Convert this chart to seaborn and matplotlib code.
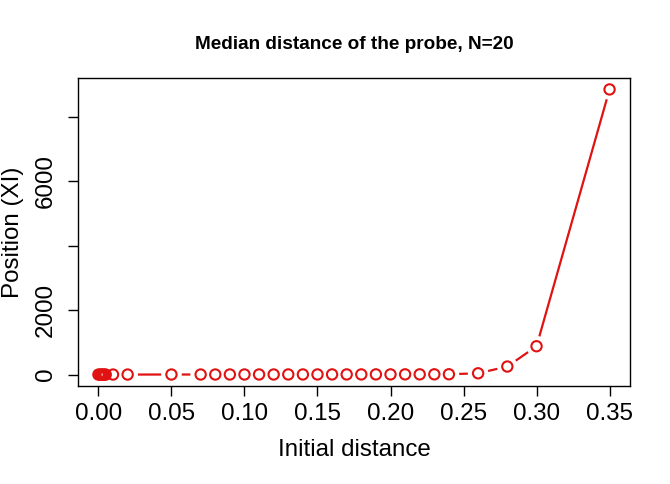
import numpy as np
import pandas as pd
import matplotlib
matplotlib.use("Agg")
import matplotlib.pyplot as plt
import seaborn as sns

# Data
initial_distance = [0.0, 0.001, 0.002, 0.003, 0.004, 0.005, 0.01, 0.02, 0.05,
                    0.07, 0.08, 0.09, 0.10, 0.11, 0.12, 0.13, 0.14, 0.15, 0.16,
                    0.17, 0.18, 0.19, 0.20, 0.21, 0.22, 0.23, 0.24,
                    0.26, 0.28, 0.30, 0.35]
position = [0, 0, 0, 0, 0, 0, 1, 1, 2,
            2, 2, 3, 3, 3, 3, 4, 4, 4, 5,
            5, 5, 6, 6, 7, 7, 8, 10,
            40, 250, 880, 8850]

y_ticks = [0, 2000, 4000, 6000, 8000]
y_tick_labels = ["0", "2000", "", "6000", ""]
x_ticks = [0.00, 0.05, 0.10, 0.15, 0.20, 0.25, 0.30, 0.35]

df = pd.DataFrame({"dist": initial_distance, "pos": position})

sns.set_theme(style="ticks")
plt.rcParams["font.family"] = ["Liberation Sans", "DejaVu Sans"]

red = "#E01212"

fig = plt.figure(figsize=(6.7, 4.84), dpi=100)
ax = fig.add_axes([0.1164, 0.2025, 0.8239, 0.6363])

# line, then white halos to break it near points (like R type="b"), then hollow circles
sns.lineplot(data=df, x="dist", y="pos", color=red, linewidth=1.6, ax=ax, zorder=1)
sns.scatterplot(data=df, x="dist", y="pos", s=220, color="white", edgecolor="none",
                linewidth=0, ax=ax, zorder=2)
sns.scatterplot(data=df, x="dist", y="pos", s=55, marker="o", facecolor="none",
                edgecolor=red, linewidth=1.5, ax=ax, zorder=3)

# R default 4% padding
xr = max(initial_distance) - min(initial_distance)
yr = max(position) - min(position)
ax.set_xlim(min(initial_distance) - 0.04 * xr, max(initial_distance) + 0.04 * xr)
ax.set_ylim(min(position) - 0.04 * yr, max(position) + 0.04 * yr)

ax.set_xticks(x_ticks)
ax.set_xticklabels([f"{t:.2f}" for t in x_ticks])
ax.set_yticks(y_ticks)
ax.set_yticklabels(y_tick_labels, rotation=90, va="center")

ax.tick_params(axis="both", labelsize=17.4, length=7, width=1, color="black",
               direction="out", labelcolor="black")
ax.tick_params(axis="x", pad=5)
ax.tick_params(axis="y", pad=8)
for sp in ax.spines.values():
    sp.set_visible(True)
    sp.set_color("black")
    sp.set_linewidth(1)

ax.set_xlabel("Initial distance", fontsize=17.4, labelpad=10, color="black")
ax.set_ylabel("Position (XI)", fontsize=17.4, labelpad=8, color="black")
ax.set_title("Median distance of the probe, N=20", fontsize=13.7, fontweight="bold",
             pad=21, color="black")

fig.savefig("out.png", dpi=100)
